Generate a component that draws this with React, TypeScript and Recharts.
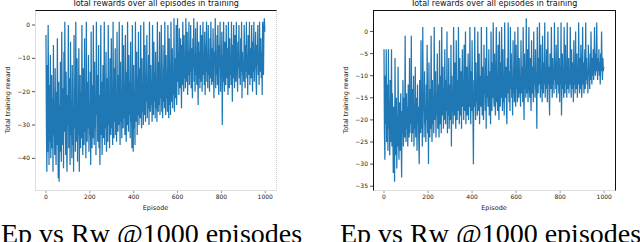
import { LineChart, Line, XAxis, YAxis } from "recharts";

// episodes are sampled every 2 steps (0..998)
const EPISODE_STEP = 2;
const xTicks = [0, 200, 400, 600, 800, 1000];
const leftYTicks = [0, -10, -20, -30, -40];
const rightYTicks = [0, -5, -10, -15, -20, -25, -30, -35];

const leftRewards = [
  -3, -30, -44, -12, -38, 0, -25, -42, -18, -35,
  -9, -40, -28, -15, -37, -22, -44, -6, -33, -26,
  -39, -13, -31, -42, -20, -36, -4, -29, -46, -17,
  -47, -24, -38, -11, -34, -41, -2, -27, -36, -19,
  -43, -8, -32, 1, -25, -39, -14, -35, -44, -21,
  -30, 0, -37, -16, -28, -42, -5, -33, -23, -40,
  -12, -36, -27, -44, -3, -31, -19, -38, 1, -26,
  -35, -10, -41, -24, -33, -7, -44, -29, -15, -37,
  -20, -34, 0, -30, -39, -13, -27, -36, -4, -32,
  -22, -40, 1, -28, -35, -17, -31, -9, -38, -25,
  -33, -14, -42, -2, -29, -37, -18, -34, 0, -26,
  -36, -11, -31, -23, -39, 1, -27, -15, -35, -30,
  -6, -37, -21, -42, -28, 0, -33, -17, -39, -24,
  -12, -34, -29, 1, -36, -20, -31, -8, -38, -26,
  -16, -35, 0, -30, -22, -37, -10, -28, -33, -4,
  -31, -19, -36, 1, -25, -34, -13, -29, -7, -33,
  -21, -35, -2, -27, -32, -15, -30, 1, -24, -36,
  -11, -29, -20, -34, 0, -26, -31, -6, -28, -18,
  -33, -3, -25, -35, -14, -30, 1, -22, -32, -9,
  -27, -17, -34, -5, -29, -24, -37, 0, -26, -38,
  -12, -31, -20, -36, 1, -25, -29, -8, -33, -16,
  -27, -2, -30, -22, -13, -28, 0, -24, -31, -10,
  -26, -18, -30, 1, -21, -27, -6, -29, -15, -23,
  -3, -28, -19, -25, -9, -30, 1, -22, -26, -12,
  -24, -17, -29, 0, -20, -27, -5, -23, -14, -28,
  -8, -25, -18, -29, 1, -21, -26, -11, -24, -2,
  -27, -15, -22, 0, -26, -19, -28, -6, -23, -13,
  -25, 1, -18, -27, -9, -22, -16, -26, 0, -20,
  -28, -4, -24, -12, -27, 1, -19, -23, -7, -25,
  -15, -21, 2, -26, -10, -22, -18, 0, -24, -13,
  2, -17, -8, -21, -1, -15, -19, -4, -16, -25,
  -6, -18, 1, -13, -20, -3, -16, -10, -19, 2,
  -12, -17, -2, -21, -8, -15, 1, -18, -11, -14,
  0, -19, -7, -16, -22, -4, -13, 2, -17, -9,
  -20, -1, -15, -11, -18, 1, -14, -24, -5, -16,
  -8, -19, 0, -13, -17, -3, -20, -10, 1, -15,
  -12, -18, -2, -21, -6, -14, 1, -17, -9, -19,
  0, -15, -11, -20, -4, -16, 1, -13, -18, -7,
  -17, -1, -14, -22, -8, -12, 2, -19, -10, -15,
  -3, -18, 0, -16, -21, -6, -13, 1, -20, -11,
  -14, -2, -30, -9, -17, 1, -15, -20, -5, -12,
  -18, 0, -13, -16, -7, -21, 1, -11, -19, -4,
  -15, -10, -18, 1, -13, -23, -6, -16, 0, -12,
  -19, -3, -14, -17, 1, -9, -15, -20, -5, -13,
  0, -16, -11, -18, -4, -14, 1, -22, -8, -15,
  -12, -17, 0, -10, -19, -6, -14, 1, -16, -9,
  -21, -3, -13, -15, 1, -18, -7, -12, -16, 0,
  -11, -20, -5, -14, 1, -17, -9, -13, -2, -16,
  -21, -6, -12, 0, -15, -10, -18, 1, -13, -14,
  -4, -16, -8, -21, 1, -11, -15, 0, 2, -2,
];

const rightRewards = [
  -4, -23, -29, -10, -21, -4, -25, -18, -12, -27,
  -4, -22, -16, -28, -11, -25, -19, -4, -26, -14,
  -21, -32, -17, -25, -34, -6, -23, -28, -15, -31,
  -19, -26, -8, -24, -29, -16, -22, -27, -14, -25,
  -33, -18, -23, -11, -26, -20, -15, -24, -1, -21,
  -25, -14, -22, -17, -26, -12, -20, -24, -6, -23,
  -16, -21, -1, -25, -13, -19, -23, -10, -26, -18,
  -22, -8, -24, -15, -20, -27, -12, -21, -17, -25,
  -30, -11, -19, -23, -2, -22, -16, -26, 1, -18,
  -14, -24, -9, -21, -17, -25, -12, -20, -3, -23,
  -16, -30, -7, -20, -24, -13, -22, -1, -18, -25,
  -11, -21, -15, -23, 1, -17, -20, -9, -24, -14,
  -19, -5, -22, -12, -18, -24, -2, -16, -21, -10,
  -23, 1, -15, -19, -8, -22, -13, -20, -4, -17,
  -21, -11, -18, 0, -23, -14, -19, -6, -22, -12,
  -16, -20, -3, -26, -10, -18, -15, -21, 1, -13,
  -19, -7, -17, -22, -2, -15, -20, -11, -18, 1,
  -14, -21, -6, -16, -19, -9, -22, -12, -4, -17,
  -11, -20, -3, -15, -18, 0, -21, -13, -8, -19,
  -16, -5, -20, -12, -17, 1, -14, -21, -9, -18,
  -2, -15, -19, -30, -11, -17, 1, -13, -20, -7,
  -16, -12, -19, 0, -14, -18, -5, -21, -10, -15,
  -17, 1, -12, -19, -8, -16, -20, -3, -14, -11,
  -18, -6, -22, 1, -15, -10, -17, -13, -4, -19,
  -9, -16, -21, 0, -12, -18, -7, -15, 2, -14,
  -17, -5, -13, -19, -10, 1, -16, -12, -18, -3,
  -14, -20, 0, -11, -17, -7, -15, 1, -13, -18,
  -4, -16, -10, -19, 2, -12, -15, -8, -17, -21,
  -6, -14, 2, -11, -16, -9, -18, 1, -13, -5,
  -15, -10, -19, -2, -14, -12, -16, 0, -11, -17,
  -3, -13, -9, -16, 1, -12, -15, -6, -14, -10,
  -17, -2, -11, -14, -8, -16, 1, -12, -20, -5,
  -13, -9, -15, 3, -11, -14, -4, -16, -10, 1,
  -12, -15, -6, -13, -18, -2, -11, -14, -8, -16,
  0, -12, -9, -15, -4, -13, -10, -22, 1, -11,
  -14, -6, -12, 2, -10, -15, -3, -13, -9, -16,
  -1, -11, -14, -7, -12, 2, -15, -9, -13, -4,
  -10, -16, 0, -12, -8, -14, -19, -5, -11, -13,
  1, -10, -15, -6, -12, -9, -14, 2, -11, -7,
  -13, -3, -15, -10, -12, 1, -9, -14, -6, -16,
  -8, -12, 2, -19, -11, -5, -13, -9, -15, 1,
  -10, -14, -3, -12, -8, -15, 2, -11, -13, -6,
  -14, -9, -12, 1, -10, -15, -4, -13, -7, -11,
  -16, -2, -12, -9, -14, 0, -11, -13, -5, -15,
  -8, -12, 2, -10, -14, -6, -13, -3, -11, -15,
  -9, 1, -12, -7, -14, -10, -4, -13, 2, -11,
  -6, -12, -9, -14, -3, -10, -8, -13, -5, -11,
  0, -9, -12, -6, -10, -4, -11, -8, 1, -7,
  -10, -5, -9, 2, -8, -11, -6, -9, -4, -10,
  -7, -12, -5, -9, 0, -8, -11, -6, -9, -8,
];

const TITLE = "Total rewards over all episodes in training";
const X_LABEL = "Episode";
const Y_LABEL = "Total training reward";
const CAPTION = "Ep vs Rw @1000 episodes";

const FONT = "DejaVu Sans, sans-serif";
const BLUE = "#1f77b4";

const fmt = (v: number) => (v < 0 ? `\u2212${Math.abs(v)}` : `${v}`);

interface PanelProps {
  left: number;
  rewards: number[];
  yDomain: [number, number];
  yTicks: number[];
  axisWidth: number;
  rightMargin: number;
  borders: { top: string; right: string; bottom: string; left: string };
}

function Panel({ left, rewards, yDomain, yTicks, axisWidth, rightMargin, borders }: PanelProps) {
  const data = rewards.map((r, i) => ({ ep: i * EPISODE_STEP, r }));
  const plotLeft = axisWidth;
  const plotW = 320 - axisWidth - rightMargin;
  const tickStyle = { fontSize: 6, fontFamily: FONT, fill: "#222" };
  return (
    <div style={{ position: "absolute", left, top: 0, width: 320, height: 242 }}>
      <LineChart width={320} height={242} data={data} margin={{ top: 10, right: rightMargin, bottom: 0, left: 0 }}>
        <XAxis
          dataKey="ep"
          type="number"
          domain={[-50, 1049]}
          ticks={xTicks}
          allowDataOverflow
          height={52}
          tick={tickStyle}
          tickSize={3}
          tickMargin={2}
          axisLine={false}
          tickLine={{ stroke: "#999" }}
        />
        <YAxis
          type="number"
          domain={yDomain}
          ticks={yTicks}
          allowDataOverflow
          width={axisWidth}
          tick={tickStyle}
          tickSize={3}
          tickMargin={2}
          tickFormatter={fmt}
          axisLine={false}
          tickLine={{ stroke: "#555" }}
        />
        <Line type="linear" dataKey="r" stroke={BLUE} strokeWidth={1.25} dot={false} isAnimationActive={false} />
      </LineChart>
      <div
        style={{
          position: "absolute",
          left: plotLeft - 0.5,
          top: 9.5,
          width: plotW + 1,
          height: 181,
          boxSizing: "border-box",
          borderTop: borders.top,
          borderRight: borders.right,
          borderBottom: borders.bottom,
          borderLeft: borders.left,
          pointerEvents: "none",
        }}
      />
      <svg width={320} height={242} style={{ position: "absolute", left: 0, top: 0, overflow: "visible" }}>
        <text x={plotLeft + plotW / 2} y={6} textAnchor="middle" fontSize={8} fontFamily={FONT} fill="#111">
          {TITLE}
        </text>
        <text x={plotLeft + plotW / 2} y={209.5} textAnchor="middle" fontSize={6.5} fontFamily={FONT} fill="#222">
          {X_LABEL}
        </text>
        <text
          x={0}
          y={0}
          transform={`translate(${plotLeft - 25}, 100) rotate(-90)`}
          textAnchor="middle"
          fontSize={6.5}
          fontFamily={FONT}
          fill="#222"
        >
          {Y_LABEL}
        </text>
      </svg>
    </div>
  );
}

export default function App() {
  return (
    <div style={{ position: "absolute", left: 0, top: 0, width: 640, height: 242, background: "#fff", overflow: "hidden" }}>
      <Panel
        left={0}
        rewards={leftRewards}
        yDomain={[-49.5, 4.5]}
        yTicks={leftYTicks}
        axisWidth={35}
        rightMargin={44}
        borders={{ top: "1.5px solid #111", right: "1px dotted #ccc", bottom: "1px solid #ddd", left: "1px solid #ddd" }}
      />
      <Panel
        left={320}
        rewards={rightRewards}
        yDomain={[-35.85, 4.85]}
        yTicks={rightYTicks}
        axisWidth={53}
        rightMargin={25}
        borders={{ top: "1.5px solid #111", right: "1.5px solid #111", bottom: "1px solid #ddd", left: "1.5px solid #111" }}
      />
      <svg width={640} height={242} style={{ position: "absolute", left: 0, top: 0 }}>
        <text x={1} y={243} fontSize={28} fontFamily="Liberation Serif, serif" fill="#000">
          {CAPTION}
        </text>
        <text x={340} y={243} fontSize={28} fontFamily="Liberation Serif, serif" fill="#000">
          {CAPTION}
        </text>
      </svg>
    </div>
  );
}
